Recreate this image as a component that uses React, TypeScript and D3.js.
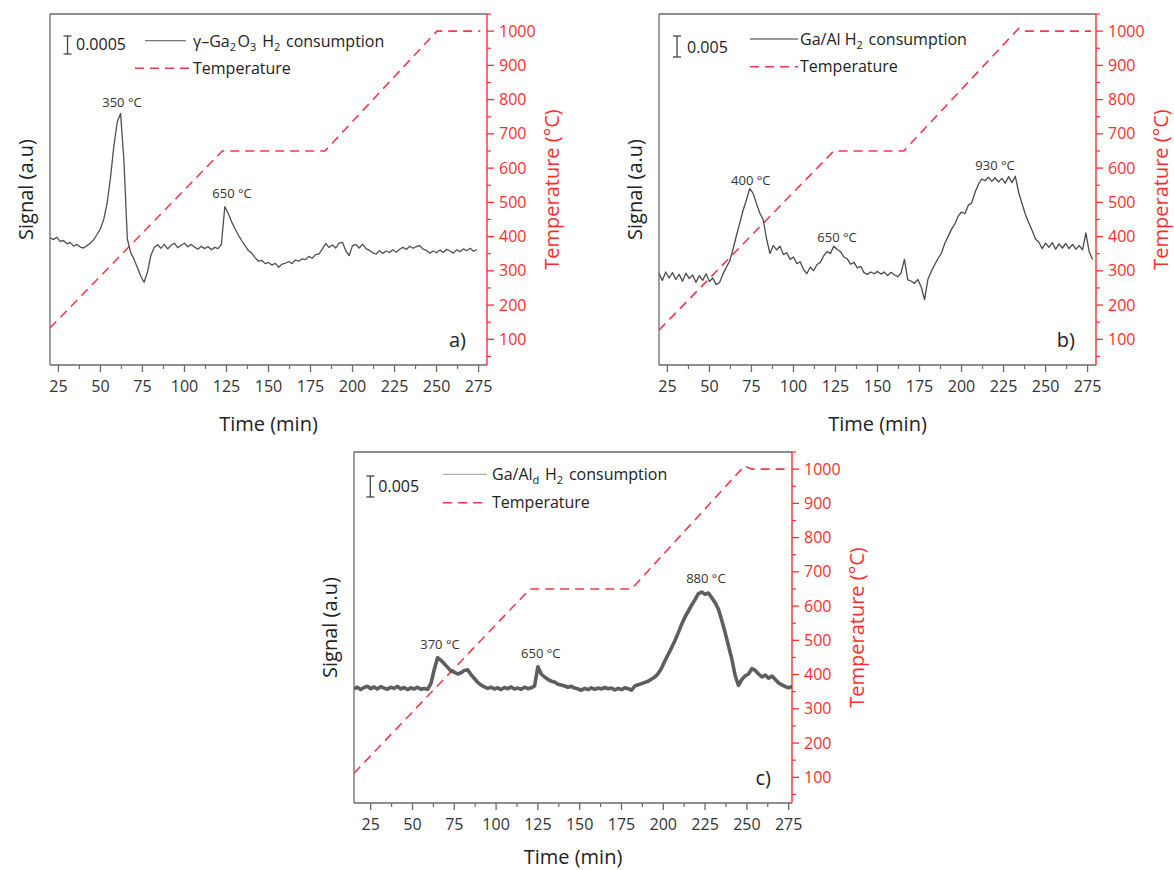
import React from "react";
import * as d3 from "d3";

// ---------- DATA ----------
const X_TICKS = [25, 50, 75, 100, 125, 150, 175, 200, 225, 250, 275];
const X_MINOR = [37.5, 62.5, 87.5, 112.5, 137.5, 162.5, 187.5, 212.5, 237.5, 262.5];
const TEMP_TICKS = [100, 200, 300, 400, 500, 600, 700, 800, 900, 1000];
const TEMP_MINOR = [50, 150, 250, 350, 450, 550, 650, 750, 850, 950, 1050];
const TEMP_DOMAIN = [25, 1050];
const SIGNAL_DOMAIN = [0, 117];
const SAMPLE_STEP = 2; // min between samples

// panel a: γ-Ga2O3, samples start at 20 min
const A_T0 = 20;
const A_SIGNAL = [
  42.5, 41.8, 42.6, 41.2, 41.5, 40.4, 40.9, 39.6, 40.2, 39.3,
  39.0, 39.8, 40.6, 41.8, 43.5, 45.4, 48.6, 54.0, 62.5, 73.0,
  81.0, 83.8, 68.0, 42.0, 37.5, 35.2, 32.5, 29.6, 27.6, 31.0,
  36.5, 39.2, 40.1, 38.9, 40.2, 38.7, 39.9, 40.6, 39.1, 39.9,
  40.6, 39.4, 40.2, 39.3, 38.6, 39.6, 38.8, 39.5, 38.4, 39.2,
  38.8, 40.2, 52.8, 50.6, 47.8, 45.5, 43.4, 41.5, 39.8, 38.2,
  37.3, 35.8, 34.6, 34.9, 33.8, 34.2, 33.3, 33.9, 32.6, 33.6,
  33.9, 34.5, 33.8, 35.0, 34.6, 35.4, 35.1, 36.2, 35.6, 36.8,
  37.0, 38.6, 40.5, 39.2, 40.0, 39.0, 40.6, 40.9, 38.0, 36.5,
  39.8, 40.2, 39.0, 40.3, 38.8, 38.2, 37.4, 37.0, 38.1, 37.2,
  38.0, 37.5, 38.4, 37.6, 38.6, 39.2, 38.5, 39.6, 38.9, 39.5,
  39.8, 38.6, 38.2, 37.3, 38.0, 37.4, 38.3, 37.5, 38.6, 38.0,
  37.3, 38.4, 37.8, 38.7, 38.1, 38.9, 37.9, 38.5,
];
const A_TEMP = [[20, 133], [122.5, 650], [183.6, 650], [250.2, 1000], [276, 1000]];

// panel b: Ga/Al, samples start at 20 min
const B_T0 = 20;
const B_SIGNAL = [
  30.5, 28.2, 31.0, 29.0, 30.8, 28.5, 30.2, 27.9, 30.6, 28.8,
  30.0, 27.6, 29.8, 28.2, 30.4, 27.8, 29.0, 26.8, 27.5, 30.2,
  32.5, 34.6, 38.5, 43.0, 47.2, 51.5, 55.0, 58.8, 57.2, 53.8,
  50.6, 48.5, 42.0, 37.2, 39.8, 38.4, 39.6, 36.8, 37.4, 35.2,
  36.0, 33.8, 34.4, 31.8, 30.5, 32.6, 31.4, 33.5, 34.2, 36.4,
  37.8, 37.2, 39.6, 38.5, 37.8, 36.0, 35.4, 33.6, 34.2, 32.4,
  32.9, 30.8, 30.2, 31.0, 30.4, 31.2, 30.3, 31.0, 29.8, 30.9,
  30.1, 29.4, 30.6, 35.2, 28.4, 28.0, 27.2, 28.5, 26.0, 21.8,
  28.6, 31.2, 33.4, 35.5, 37.2, 40.5, 42.8, 45.2, 47.0, 49.6,
  51.0, 50.4, 53.2, 54.0, 57.5, 60.2, 62.0, 61.4, 62.6, 61.2,
  62.4, 61.0, 62.2, 60.6, 62.8, 60.8, 62.9, 57.5, 53.8, 50.2,
  47.4, 44.8, 42.0, 40.9, 38.8, 40.6, 39.2, 40.8, 38.6, 40.4,
  39.0, 40.5, 38.8, 40.2, 38.6, 39.8, 38.4, 44.0, 37.6, 35.2,
];
const B_TEMP = [[20, 127], [124, 650], [165.6, 650], [234, 1008], [238, 1000], [277, 1000]];

// panel c: Ga/Ald, samples start at 15 min
const C_T0 = 15;
const C_SIGNAL = [
  38.0, 38.6, 37.8, 38.5, 38.9, 38.1, 38.7, 38.0, 38.8, 38.3,
  37.9, 38.6, 38.2, 38.9, 38.0, 38.5, 37.8, 38.4, 38.0, 38.6,
  37.9, 38.2, 37.9, 39.8, 44.5, 48.4, 47.6, 46.4, 45.2, 44.0,
  43.6, 43.0, 43.4, 44.2, 44.4, 42.8, 41.5, 40.2, 39.3, 38.7,
  38.2, 38.6, 38.0, 38.4, 37.8, 38.5, 38.1, 38.7, 38.0, 38.3,
  37.9, 38.6, 38.1, 38.4, 39.0, 45.4, 43.0, 42.0, 41.2, 40.6,
  40.3, 39.6, 39.3, 39.0, 38.6, 38.9, 38.3, 38.0, 37.6, 38.2,
  37.8, 38.4, 37.9, 38.3, 38.0, 38.5, 38.1, 38.3, 37.7, 38.2,
  37.8, 38.4, 38.1, 37.6, 39.0, 39.4, 39.8, 40.2, 40.6, 41.3,
  42.0, 43.2, 45.0, 47.4, 49.6, 51.8, 54.2, 56.8, 59.6, 62.0,
  64.0, 66.0, 67.8, 69.8, 70.3, 69.6, 70.0, 68.4, 66.8, 64.6,
  60.8, 56.8, 52.4, 48.0, 42.5, 39.2, 41.2, 42.4, 43.0, 44.8,
  44.2, 43.0, 42.0, 42.6, 41.6, 42.3, 41.2, 40.0, 39.4, 38.8,
  38.4, 38.9,
];
const C_TEMP = [[15, 112], [120.3, 650], [181, 650], [248.5, 1009], [253, 1000], [275, 1000]];

const A_PEAKS = [{ t: 62.8, v: 86.1, text: "350 °C" }, { t: 128.3, v: 55.8, text: "650 °C" }];
const B_PEAKS = [
  { t: 74.6, v: 60, text: "400 °C" },
  { t: 125.9, v: 41.1, text: "650 °C" },
  { t: 219.9, v: 65, text: "930 °C" },
];
const C_PEAKS = [
  { t: 66.4, v: 51.2, text: "370 °C" },
  { t: 126.7, v: 48.4, text: "650 °C" },
  { t: 225.5, v: 73.4, text: "880 °C" },
];

// ---------- STYLE / LAYOUT ----------
const FONT = "'Open Sans', 'DejaVu Sans', sans-serif";
const RED = "#ff2e2e";
const DASH_RED = "#f23a4a";
const FRAME = "#6a6a6a";

type Peak = { t: number; v: number; text: string };
type PanelCfg = {
  left: number; top: number; width: number; height: number;
  xDomain: number[]; t0: number; signal: number[]; temp: number[][];
  peaks: Peak[]; tag: string; sigStroke: string; sigWidth: number;
  legendLine: string; legendLabel: React.ReactNode; scaleText: string; scaleSpan: number;
  timeY: number;
  lg: { barX: number; barTop: number; valX: number; valY: number; lineX1: number; lineX2: number; lineY: number; dashX1: number; dashX2: number; dashY: number; labX: number; lab1Y: number; lab2Y: number };
};

const sub = (s: string) => (
  <>
    <tspan dy={4} fontSize={11}>{s}</tspan>
    <tspan dy={-4}>{"\u200A"}</tspan>
  </>
);

const PANELS: PanelCfg[] = [
  {
    left: 50, top: 14, width: 437, height: 351, xDomain: [20, 280], t0: A_T0, signal: A_SIGNAL, temp: A_TEMP,
    peaks: A_PEAKS, tag: "a)", sigStroke: "#505050", sigWidth: 1.3, legendLine: "#777",
    legendLabel: (<>γ–Ga{sub("2")}O{sub("3")} H{sub("2")} consumption</>),
    scaleText: "0.0005", scaleSpan: 6, timeY: 66,
    lg: { barX: 17.5, barTop: 22, valX: 26, valY: 35.5, lineX1: 95, lineX2: 136, lineY: 26.7, dashX1: 85, dashX2: 141, dashY: 54.3, labX: 143, lab1Y: 32.7, lab2Y: 60 },
  },
  {
    left: 659, top: 14, width: 437, height: 351, xDomain: [20, 280], t0: B_T0, signal: B_SIGNAL, temp: B_TEMP,
    peaks: B_PEAKS, tag: "b)", sigStroke: "#4a4a4a", sigWidth: 1.3, legendLine: "#777",
    legendLabel: (<>Ga/Al H{sub("2")} consumption</>),
    scaleText: "0.005", scaleSpan: 7, timeY: 66,
    lg: { barX: 18, barTop: 22, valX: 28, valY: 38.7, lineX1: 91, lineX2: 139, lineY: 25, dashX1: 91, dashX2: 139, dashY: 52.7, labX: 141, lab1Y: 31, lab2Y: 57.7 },
  },
  {
    left: 354, top: 452, width: 438, height: 351, xDomain: [15, 277], t0: C_T0, signal: C_SIGNAL, temp: C_TEMP,
    peaks: C_PEAKS, tag: "c)", sigStroke: "#4d4d4d", sigWidth: 3.6, legendLine: "#b0b0b0",
    legendLabel: (<>Ga/Al{sub("d")} H{sub("2")} consumption</>),
    scaleText: "0.005", scaleSpan: 7, timeY: 61,
    lg: { barX: 16.3, barTop: 24, valX: 24.3, valY: 39.7, lineX1: 89, lineX2: 133, lineY: 22.3, dashX1: 89, dashX2: 134, dashY: 50.7, labX: 138, lab1Y: 28, lab2Y: 56.3 },
  },
];

function Panel({ cfg, idx }: { cfg: PanelCfg; idx: number }) {
  const { left, top, width, height } = cfg;
  const right = left + width;
  const bottom = top + height;
  const x = d3.scaleLinear().domain(cfg.xDomain).range([left, right]);
  const ys = d3.scaleLinear().domain(SIGNAL_DOMAIN).range([bottom, top]);
  const yt = d3.scaleLinear().domain(TEMP_DOMAIN).range([bottom, top]);

  const pts: [number, number][] = cfg.signal.map((v, i) => [cfg.t0 + i * SAMPLE_STEP, v]);
  const sigPath = d3.line<[number, number]>().x((d) => x(d[0])).y((d) => ys(d[1])).curve(d3.curveLinear)(pts) || "";
  const tempPath = d3.line<number[]>().x((d) => x(d[0])).y((d) => yt(d[1]))(cfg.temp) || "";
  const clipId = `clip-${idx}`;
  const lg = cfg.lg;
  const barBottom = top + lg.barTop;
  const barLen = ys(0) - ys(cfg.scaleSpan);
  const cx = (left + right) / 2;
  const cy = (top + bottom) / 2;

  return (
    <g fontFamily={FONT}>
      <defs>
        <clipPath id={clipId}>
          <rect x={left} y={top} width={width} height={height} />
        </clipPath>
      </defs>
      {/* frame */}
      <line x1={left} x2={right} y1={top} y2={top} stroke={FRAME} strokeWidth={1.3} />
      <line x1={left} x2={left} y1={top} y2={bottom} stroke={FRAME} strokeWidth={1.3} />
      <line x1={left} x2={right} y1={bottom} y2={bottom} stroke={FRAME} strokeWidth={1.3} />
      {/* x ticks */}
      {X_TICKS.filter((t) => t >= cfg.xDomain[0] && t <= cfg.xDomain[1]).map((t) => (
        <g key={`xt${t}`}>
          <line x1={x(t)} x2={x(t)} y1={bottom} y2={bottom + 7} stroke={FRAME} strokeWidth={1.3} />
          <text x={x(t)} y={bottom + 27} textAnchor="middle" fontSize={16} fill="#333">{t}</text>
        </g>
      ))}
      {X_MINOR.filter((t) => t >= cfg.xDomain[0] && t <= cfg.xDomain[1]).map((t) => (
        <line key={`xm${t}`} x1={x(t)} x2={x(t)} y1={bottom} y2={bottom + 4} stroke={FRAME} strokeWidth={1.2} />
      ))}
      {/* right temperature axis */}
      <line x1={right} x2={right} y1={top} y2={bottom} stroke={RED} strokeWidth={1.4} />
      {TEMP_TICKS.map((t) => (
        <g key={`tt${t}`}>
          <line x1={right} x2={right + 7} y1={yt(t)} y2={yt(t)} stroke={RED} strokeWidth={1.3} />
          <text x={right + 12} y={yt(t) + 5.5} fontSize={16} fill={RED}>{t}</text>
        </g>
      ))}
      {TEMP_MINOR.map((t) => (
        <line key={`tm${t}`} x1={right} x2={right + 4} y1={yt(t)} y2={yt(t)} stroke={RED} strokeWidth={1.2} />
      ))}
      {/* axis titles */}
      <text x={cx} y={bottom + cfg.timeY} textAnchor="middle" fontSize={20} fill="#222">Time (min)</text>
      <text transform={`translate(${left - 17},${cy}) rotate(-90)`} textAnchor="middle" fontSize={20} fill="#222">Signal (a.u)</text>
      <text transform={`translate(${right + 72},${cy}) rotate(-90)`} textAnchor="middle" fontSize={20} fill={RED}>Temperature (°C)</text>
      {/* data */}
      <g clipPath={`url(#${clipId})`}>
        <path d={tempPath} fill="none" stroke={DASH_RED} strokeWidth={1.6} strokeDasharray="9,6" />
        <path d={sigPath} fill="none" stroke={cfg.sigStroke} strokeWidth={cfg.sigWidth} strokeLinejoin="round" opacity={cfg.sigWidth > 2 ? 0.9 : 1} />
      </g>
      {/* peak labels */}
      {cfg.peaks.map((p) => (
        <text key={p.text + p.t} x={x(p.t)} y={ys(p.v)} textAnchor="middle" fontSize={13} fill="#333">{p.text}</text>
      ))}
      {/* panel tag */}
      <text x={right - 21} y={bottom - 18} textAnchor="end" fontSize={20} fill="#222">{cfg.tag}</text>
      {/* legend: scale bar */}
      <g stroke="#444" strokeWidth={1.3}>
        <line x1={left + lg.barX} x2={left + lg.barX} y1={barBottom} y2={barBottom + barLen} />
        <line x1={left + lg.barX - 4} x2={left + lg.barX + 4} y1={barBottom} y2={barBottom} />
        <line x1={left + lg.barX - 4} x2={left + lg.barX + 4} y1={barBottom + barLen} y2={barBottom + barLen} />
      </g>
      <text x={left + lg.valX} y={top + lg.valY} fontSize={16} fill="#222">{cfg.scaleText}</text>
      <line x1={left + lg.lineX1} x2={left + lg.lineX2} y1={top + lg.lineY} y2={top + lg.lineY} stroke={cfg.legendLine} strokeWidth={1.3} />
      <line x1={left + lg.dashX1} x2={left + lg.dashX2} y1={top + lg.dashY} y2={top + lg.dashY} stroke={DASH_RED} strokeWidth={1.6} strokeDasharray="9,6" />
      <text x={left + lg.labX} y={top + lg.lab1Y} fontSize={16} fill="#222">{cfg.legendLabel}</text>
      <text x={left + lg.labX} y={top + lg.lab2Y} fontSize={16} fill="#222">Temperature</text>
    </g>
  );
}

export default function App() {
  return (
    <svg width={1174} height={870} style={{ position: "absolute", left: 0, top: 0, background: "#fff" }}>
      <rect x={0} y={0} width={1174} height={870} fill="#fff" />
      {PANELS.map((p, i) => (
        <Panel key={i} cfg={p} idx={i} />
      ))}
    </svg>
  );
}
